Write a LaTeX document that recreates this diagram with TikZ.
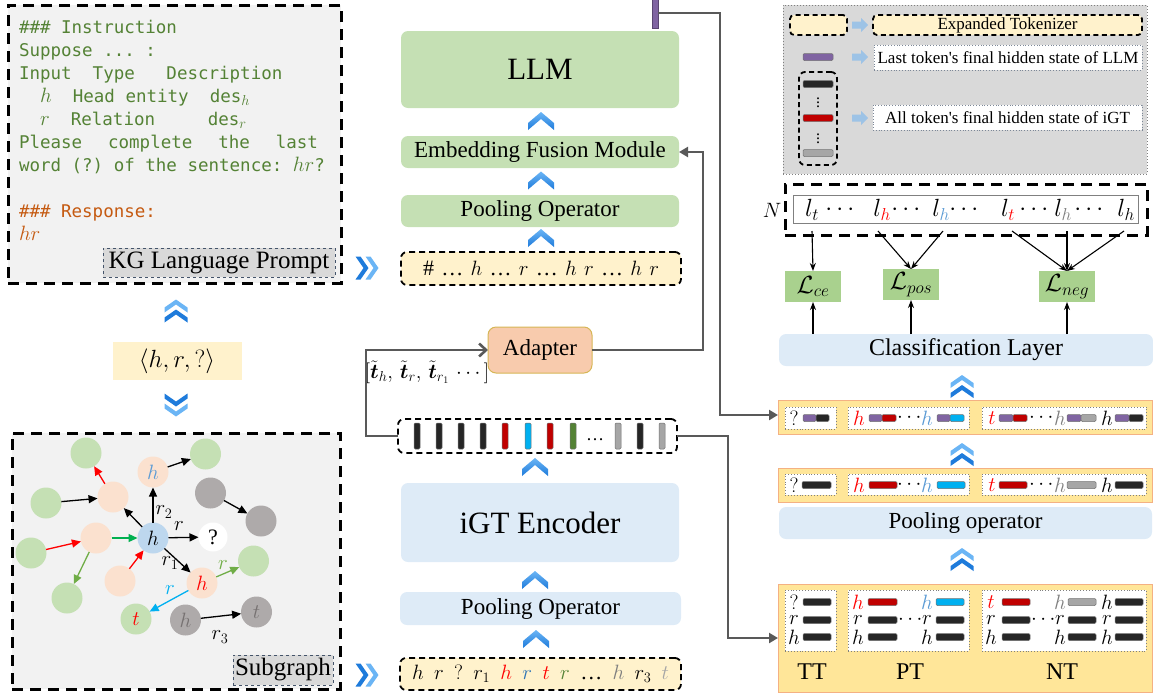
\documentclass[tikz,border=0pt]{standalone}
\usepackage{amsmath}
\usepackage{fontspec}
\setmainfont{Liberation Serif}
\setmonofont{DejaVu Sans Mono}
\newfontfamily\legfont{Liberation Serif}
\usetikzlibrary{arrows.meta,calc}
\definecolor{pgreen}{HTML}{548235}
\definecolor{porange}{HTML}{C55A11}
\definecolor{bgray}{HTML}{F2F2F2}
\definecolor{lgray}{HTML}{D9D9D9}
\definecolor{lborder}{HTML}{44546A}
\definecolor{llmgreen}{HTML}{C5E0B4}
\definecolor{bblue}{HTML}{DEEBF7}
\definecolor{tyellow}{HTML}{FFF2CC}
\definecolor{adfill}{HTML}{F8CBAD}
\definecolor{adborder}{HTML}{D6B656}
\definecolor{lossg}{HTML}{A9D18E}
\definecolor{ybox}{HTML}{FFE699}
\definecolor{yborder}{HTML}{F4B183}
\definecolor{purp}{HTML}{8064A2}
\definecolor{bk}{HTML}{262626}
\definecolor{bred}{HTML}{C00000}
\definecolor{bcyan}{HTML}{00B0F0}
\definecolor{bgrayb}{HTML}{A6A6A6}
\definecolor{bgreen}{HTML}{548235}
\definecolor{connc}{HTML}{595959}
\definecolor{chevdark}{HTML}{1E7BDB}
\definecolor{chevlight}{HTML}{6BB5F5}
\definecolor{legarr}{HTML}{9DC3E6}
\definecolor{cgreen}{HTML}{C5E0B4}
\definecolor{cpeach}{HTML}{FBE1CF}
\definecolor{cblue}{HTML}{BDD7EE}
\definecolor{cgray}{HTML}{AEAAAA}
\definecolor{hblue}{HTML}{5B9BD5}
\definecolor{rblue}{HTML}{2E75B6}
\definecolor{tgray}{HTML}{767171}
\definecolor{lgraytxt}{HTML}{A6A6A6}
\definecolor{egreen}{HTML}{00B050}
\definecolor{egreen2}{HTML}{70AD47}
\definecolor{ecyan}{HTML}{00B0F0}
\definecolor{midgray}{HTML}{7F7F7F}
\newcommand\myfs[1]{\fontsize{#1}{#1}\selectfont}
\newcommand\pmath[1]{{\myfs{20.5}$#1$}}
% chevrons
\newcommand\chU[3]{\fill[#3] ({#1-11.5},{#2+6}) -- ({#1-11.5},{#2+1}) -- (#1,{#2-7}) -- ({#1+11.5},{#2+1}) -- ({#1+11.5},{#2+6}) -- (#1,{#2-2}) -- cycle;}
\newcommand\chD[3]{\fill[#3] ({#1-11.5},{#2-6}) -- ({#1-11.5},{#2-1}) -- (#1,{#2+7}) -- ({#1+11.5},{#2-1}) -- ({#1+11.5},{#2-6}) -- (#1,{#2+2}) -- cycle;}
\newcommand\chR[3]{\fill[#3] ({#1-6},{#2-11.5}) -- ({#1-1},{#2-11.5}) -- ({#1+7},#2) -- ({#1-1},{#2+11.5}) -- ({#1-6},{#2+11.5}) -- ({#1+2},#2) -- cycle;}
\newcommand\dchU[2]{\chU{#1}{#2-5}{chevlight}\chU{#1}{#2+5}{chevdark}}
\newcommand\dchD[2]{\chD{#1}{#2-5}{chevdark}\chD{#1}{#2+5}{chevlight}}
\newcommand\dchR[2]{\chR{#1-5}{#2}{chevdark}\chR{#1+5}{#2}{chevlight}}
\newcommand\chS[2]{\shade[top color=chevlight,bottom color=chevdark] ({#1-13},{#2+9}) -- ({#1-13},{#2+2}) -- (#1,{#2-9}) -- ({#1+13},{#2+2}) -- ({#1+13},{#2+9}) -- (#1,{#2-2}) -- cycle;}
\newcommand\tbar[4]{\draw[draw=black!55,line width=0.5pt,fill=#4,rounded corners=1.2pt] (#1,{#3-3.5}) rectangle (#2,{#3+3.5});}
\newcommand\vbar[2]{\draw[draw=black!55,line width=0.5pt,fill=#2,rounded corners=1.2pt] ({#1-3},423) rectangle ({#1+3},449);}
\newcommand\tokl[5]{\node[tlet,text=#5] (#1) at (#2,#3) {$#4$};}
\newcommand\legarrow[2]{\fill[legarr] ({#1-8},{#2-3.5}) -- ({#1+1},{#2-3.5}) -- ({#1+1},{#2-7}) -- ({#1+8},#2) -- ({#1+1},{#2+7}) -- ({#1+1},{#2+3.5}) -- ({#1-8},{#2+3.5}) -- cycle;}
\begin{document}
\begin{tikzpicture}[x=1pt,y=-1pt,
  every node/.style={inner sep=0pt,outer sep=0pt},
  outerbox/.style={draw=black,line width=3pt,dash pattern=on 11pt off 7pt,fill=bgray},
  lab/.style={draw=lborder,dashed,line width=0.8pt,fill=lgray,font=\myfs{25}},
  pl/.style={anchor=base west,font=\ttfamily\myfs{17.5},text=pgreen},
  gblk/.style={fill=llmgreen,rounded corners=7pt,font=\myfs{23}},
  bblk/.style={fill=bblue,rounded corners=7pt,font=\myfs{23}},
  tokbox/.style={draw=black,fill=tyellow,line width=1.8pt,dash pattern=on 6pt off 4pt,rounded corners=6pt,font=\myfs{22}},
  conn/.style={draw=connc,line width=2.6pt,-{Triangle[length=9pt,width=10pt]}},
  sgc/.style={circle,minimum size=31pt,font=\myfs{22}},
  sge/.style={line width=1.3pt,-{Triangle[length=9pt,width=8pt]}},
  el/.style={font=\myfs{21}},
  na/.style={draw=black,line width=1.1pt,-{Stealth[length=8pt,width=6pt]}},
  loss/.style={fill=lossg,minimum width=56pt,minimum height=31pt,font=\myfs{25}},
  yb/.style={fill=ybox,draw=yborder,line width=1pt,minimum width=374pt},
  ib/.style={draw=gray,dotted,line width=0.9pt,fill=white},
  tlet/.style={font=\myfs{21}},
  legtxt/.style={fill=white,draw=lborder!70,dotted,line width=0.8pt,font=\legfont\myfs{17}},
]
\useasboundingbox (0,0) rectangle (1153,697);

%% ---------------- prompt box ----------------
\node[outerbox,minimum width=333pt,minimum height=278pt] (prompt) at (174.5,144) {};
\node[pl] (p1) at (19,33) {\#\#\# Instruction};
\node[pl] (p2) at (19,56) {Suppose ... :};
\node[pl] (p3) at (19,79) {Input~~Type~~~Description};
\node[pl] (p4) at (19,102) {~~\pmath{h}~~Head entity~~des\pmath{_h}};
\node[pl] (p5) at (19,125) {~~\pmath{r}~~Relation~~~~~des\pmath{_r}};
\node[pl] (p6) at (19,148) {\makebox[299pt][l]{Please\hfill complete\hfill the\hfill last}};
\node[pl] (p7) at (19,171) {word (?) of the sentence: \pmath{hr}?};
\node[pl,text=porange] (p8) at (19,217) {\#\#\# Response:};
\node[pl,text=porange] (p9) at (19,240) {\pmath{hr}};
\node[lab,minimum width=232pt,minimum height=29pt] (kgl) at (219,262.5) {KG Language Prompt};

%% ---------------- subgraph box ----------------
\node[outerbox,minimum width=328pt,minimum height=256pt] (sub) at (176,561) {};
\node[lab,minimum width=100pt,minimum height=30pt] (subl) at (283,670) {Subgraph};

\node[sgc,fill=cgreen] (g1) at (86,453) {};
\node[sgc,fill=cgreen] (g2) at (205.5,454) {};
\node[sgc,fill=cpeach,text=hblue] (hb) at (153,472) {$h$};
\node[sgc,fill=cpeach] (pk1) at (113,497) {};
\node[sgc,fill=cgreen] (g3) at (46,503) {};
\node[sgc,fill=cgray] (d1) at (210.5,493) {};
\node[sgc,fill=cgray] (d2) at (261,521) {};
\node[sgc,fill=cpeach] (pk2) at (96,538) {};
\node[sgc,fill=cblue] (hc) at (153,538) {$h$};
\node[sgc,fill=white,minimum size=29pt] (q) at (213,537) {?};
\node[sgc,fill=cgreen] (g4) at (31,553) {};
\node[sgc,fill=cpeach] (pk3) at (120,581) {};
\node[sgc,fill=cgreen] (g5) at (253.5,561) {};
\node[sgc,fill=cpeach,text=red] (hr) at (202,583) {$h$};
\node[sgc,fill=cgreen] (g6) at (67,598) {};
\node[sgc,fill=cgreen,text=red] (tred) at (136,619) {$t$};
\node[sgc,fill=cgray,text=tgray] (gh) at (185.5,620) {$h$};
\node[sgc,fill=cgray,text=tgray] (gt) at (256.5,612) {$t$};

\draw[sge] (g3) -- (pk1);
\draw[sge,color=red] (pk1) -- (g1);
\draw[sge] (hc) -- (pk1);
\draw[sge] (hc) -- (hb);
\draw[sge] (hc) -- (q);
\draw[sge] (hc) -- (hr);
\draw[sge] (hb) -- (g2);
\draw[sge] (d1) -- (d2);
\draw[sge,color=red] (g4) -- (pk2);
\draw[sge,color=egreen] (pk2) -- (hc);
\draw[sge,color=egreen2] (pk2) -- (g6);
\draw[sge,color=red] (pk3) -- (hc);
\draw[sge,color=egreen2] (hr) -- (g5);
\draw[sge,color=ecyan] (hr) -- (tred);
\draw[sge] (gh) -- (gt);
\node[el] (lr2) at (164,512) {$r_2$};
\node[el] (lr) at (179,526) {$r$};
\node[el] (lr1) at (170,563) {$r_1$};
\node[el,text=egreen2] (lrg) at (223,565) {$r$};
\node[el,text=ecyan] (lrc) at (170,590) {$r$};
\node[el] (lr3) at (220,637) {$r_3$};

%% ---------------- left tuple ----------------
\dchU{176}{311.5}
\node[fill=tyellow,minimum width=129pt,minimum height=38pt,font=\myfs{29}] (tuple) at (177,361) {$\langle h,r,?\rangle$};
\dchD{176}{404.5}

%% ---------------- middle column ----------------
\node[gblk,minimum width=278pt,minimum height=77pt,font=\myfs{31}] (llm) at (540,69.5) {LLM};
\chS{541}{121}
\node[gblk,minimum width=278pt,minimum height=32pt] (efm) at (540,152) {Embedding Fusion Module};
\chS{541}{180.5}
\node[gblk,minimum width=278pt,minimum height=32pt] (poolg) at (540,211) {Pooling Operator};
\chS{541}{238}
\node[tokbox,minimum width=280pt,minimum height=33pt] (toktop) at (541,268.5)
  {\makebox[236pt][s]{\# \ldots\ $h$ \ldots\ $r$ \ldots\ $h$ $r$ \ldots\ $h$ $r$}};
\dchR{366.5}{268}

\node[draw=purp!70!black,fill=purp,line width=0.5pt,minimum width=6pt,minimum height=30pt] (lasttok) at (655,13) {};

\node[fill=adfill,draw=adborder,line width=1pt,rounded corners=8pt,minimum width=104pt,minimum height=46pt,font=\myfs{23}] (adapter) at (540,350) {Adapter};
\node[font=\myfs{20}] (tlab) at (427,372) {$[\tilde{\boldsymbol{t}}_h,\,\tilde{\boldsymbol{t}}_r,\,\tilde{\boldsymbol{t}}_{r_1}\,\cdots]$};

\node[draw=black,fill=white,line width=1.8pt,dash pattern=on 6pt off 4pt,rounded corners=6pt,minimum width=279pt,minimum height=34pt] (vec) at (537.5,436) {};
\vbar{417}{bk}\vbar{439}{bk}\vbar{461}{bk}\vbar{483}{bk}
\vbar{505}{bred}\vbar{528}{bcyan}\vbar{550}{bred}\vbar{573}{bgreen}
\node[font=\myfs{18}] (vdots) at (595,440) {\ldots};
\vbar{618}{bgrayb}\vbar{640}{bk}\vbar{662}{bgrayb}

\chS{535}{467}
\node[bblk,minimum width=278pt,minimum height=79pt,font=\myfs{31}] (igt) at (540,522.5) {iGT Encoder};
\chS{535}{580}
\node[bblk,minimum width=281pt,minimum height=33pt] (poolb) at (540.5,608.5) {Pooling Operator};
\chS{536}{639}
\node[tokbox,minimum width=281pt,minimum height=32pt] (tokbot) at (540.5,674)
  {\makebox[257pt][s]{$h$ $r$ $?$ $r_1$ $\color{red}h$ $\color{rblue}r$ $\color{red}t$ $\color{pgreen}r$ \ldots\ $\color{midgray}h$ $r_3$ $\color{lgraytxt}t$}};
\dchR{366.5}{675}

%% ---------------- right: legend ----------------
\node[fill=lgray,draw=midgray,dotted,line width=1pt,minimum width=364pt,minimum height=169pt] (legend) at (965,89.5) {};
\node[draw=black,fill=tyellow,line width=1.8pt,dash pattern=on 5pt off 3.5pt,rounded corners=4pt,minimum width=57pt,minimum height=20pt] (legy) at (818.5,25) {};
\legarrow{860}{25}
\node[draw=black,fill=tyellow,line width=1.8pt,dash pattern=on 5pt off 3.5pt,rounded corners=4pt,minimum width=269pt,minimum height=20pt,font=\myfs{17}] (legexp) at (1007.5,25) {Expanded Tokenizer};
\tbar{803}{833}{57}{purp}
\legarrow{860}{57}
\node[legtxt,minimum width=268pt,minimum height=25pt] (leglast) at (1008,57.5) {Last token's final hidden state of LLM};
\node[draw=black,line width=1.8pt,dash pattern=on 5pt off 3.5pt,rounded corners=6pt,minimum width=38pt,minimum height=93pt] (legv) at (818,118.5) {};
\tbar{803}{833}{84}{bk}
\node[font=\myfs{16}] (vd1) at (818,100) {$\vdots$};
\tbar{803}{833}{118}{bred}
\node[font=\myfs{16}] (vd2) at (818,136) {$\vdots$};
\tbar{803}{833}{153}{bgrayb}
\legarrow{860}{118}
\node[legtxt,minimum width=269pt,minimum height=25pt] (legall) at (1007.5,117.5) {All token's final hidden state of iGT};

%% ---------------- right: N box and losses ----------------
\node[draw=black,line width=3pt,dash pattern=on 11pt off 7pt,minimum width=362pt,minimum height=51pt] (nbox) at (966,209.5) {};
\node[draw=gray,fill=white,line width=0.8pt,minimum width=345pt,minimum height=28pt] (ninner) at (965.5,209) {};
\node[font=\myfs{22}] (nlab) at (772,210) {$N$};
\begin{scope}[every node/.append style={font=\myfs{25}}]
\node (l1) at (812,210) {$l_t$};
\node (n1) at (842,210) {$\cdots$};
\node (l2) at (882,210) {$l_{\color{red}h}$};
\node (n2) at (908,210) {$\cdots$};
\node (l3) at (941,210) {$l_{\color{hblue}h}$};
\node (n3) at (966,210) {$\cdots$};
\node (l4) at (1008,210) {$l_{\color{red}t}$};
\node (n4) at (1036,210) {$\cdots$};
\node (l5) at (1063,210) {$l_{\color{midgray}h}$};
\node (n5) at (1091,210) {$\cdots$};
\node (l6) at (1126,210) {$l_h$};
\end{scope}
\node[loss] (lce) at (813,286.5) {$\mathcal{L}_{ce}$};
\node[loss] (lpos) at (911,284.5) {$\mathcal{L}_{pos}$};
\node[loss] (lneg) at (1067,286.5) {$\mathcal{L}_{neg}$};
\coordinate (s1) at (812,231);
\coordinate (s2) at (878,231);
\coordinate (s3) at (943,231);
\coordinate (s4) at (1012,231);
\coordinate (s5) at (1067,231);
\coordinate (s6) at (1124,231);
\draw[na] (s1) -- (lce.north);
\draw[na] (s2) -- (lpos.north);
\draw[na] (s3) -- (lpos.north);
\draw[na] (s4) -- (lneg.north);
\draw[na] (s5) -- (lneg.north);
\draw[na] (s6) -- (lneg.north);

\node[bblk,minimum width=374pt,minimum height=32pt,font=\myfs{24}] (cls) at (966,350) {Classification Layer};
\draw[na] (lce |- cls.north) -- (lce.south);
\draw[na] (lpos |- cls.north) -- (lpos.south);
\draw[na] (lneg |- cls.north) -- (lneg.south);

\dchU{962}{387}

%% yellow box 1
\node[yb,minimum height=34pt] (yb1) at (965,417) {};
\node[ib,minimum width=51pt,minimum height=22pt] (ib1a) at (810.5,418) {};
\node[ib,minimum width=121pt,minimum height=22pt] (ib1b) at (908.5,418) {};
\node[ib,minimum width=164pt,minimum height=22pt] (ib1c) at (1064,418) {};
\tokl{y1q}{794}{418}{?}{black}
\tbar{803}{816}{418}{purp}\tbar{816}{829}{418}{bk}
\tokl{y1h}{859}{418}{h}{red}
\tbar{869}{882}{418}{purp}\tbar{882}{896}{418}{bred}
\tokl{y1d}{911}{418}{\cdots}{black}
\tokl{y1hb}{927}{418}{h}{hblue}
\tbar{937}{950}{418}{purp}\tbar{950}{964}{418}{bcyan}
\tokl{y1t}{992}{418}{t}{red}
\tbar{999}{1013}{418}{purp}\tbar{1013}{1027}{418}{bred}
\tokl{y1d2}{1043}{418}{\cdots}{black}
\tokl{y1hg}{1060}{418}{h}{midgray}
\tbar{1067}{1081}{418}{purp}\tbar{1081}{1096}{418}{bgrayb}
\tokl{y1hk}{1107}{418}{h}{black}
\tbar{1115}{1129}{418}{purp}\tbar{1129}{1143}{418}{bk}

\dchU{962}{455}

%% yellow box 2
\node[yb,minimum height=34pt] (yb2) at (965,485) {};
\node[ib,minimum width=51pt,minimum height=21pt] (ib2a) at (810.5,484.5) {};
\node[ib,minimum width=121pt,minimum height=21pt] (ib2b) at (908.5,484.5) {};
\node[ib,minimum width=164pt,minimum height=21pt] (ib2c) at (1064,484.5) {};
\tokl{y2q}{794}{485}{?}{black}\tbar{802}{831}{485}{bk}
\tokl{y2h}{859}{485}{h}{red}\tbar{869}{897}{485}{bred}
\tokl{y2d}{911}{485}{\cdots}{black}
\tokl{y2hb}{927}{485}{h}{hblue}\tbar{937}{965}{485}{bcyan}
\tokl{y2t}{992}{485}{t}{red}\tbar{999}{1027}{485}{bred}
\tokl{y2d2}{1043}{485}{\cdots}{black}
\tokl{y2hg}{1060}{485}{h}{midgray}\tbar{1067}{1096}{485}{bgrayb}
\tokl{y2hk}{1107}{485}{h}{black}\tbar{1115}{1143}{485}{bk}

\node[bblk,minimum width=373pt,minimum height=32pt] (pool2) at (965.5,523) {Pooling operator};

\dchU{962}{560}

%% yellow box 3
\node[yb,minimum height=108pt] (yb3) at (965,638) {};
\node[ib,minimum width=51pt,minimum height=61pt] (ib3a) at (810.5,620.5) {};
\node[ib,minimum width=121pt,minimum height=61pt] (ib3b) at (908.5,620.5) {};
\node[ib,minimum width=164pt,minimum height=61pt] (ib3c) at (1064,620.5) {};
\tokl{y3q}{794}{602}{?}{black}\tbar{803}{831}{602}{bk}
\tokl{y3h}{858}{602}{h}{red}\tbar{868}{897}{602}{bred}
\tokl{y3hb}{927}{602}{h}{hblue}\tbar{936}{964}{602}{bcyan}
\tokl{y3t}{991}{602}{t}{red}\tbar{1002}{1030}{602}{bred}
\tokl{y3hg}{1060}{602}{h}{midgray}\tbar{1068}{1096}{602}{bgrayb}
\tokl{y3hk}{1107}{602}{h}{black}\tbar{1115}{1143}{602}{bk}
\foreach \rr/\yy/\ll in {2/620/r,3/637/h}{
  \tokl{y\rr a}{794}{\yy}{\ll}{black}\tbar{803}{831}{\yy}{bk}
  \tokl{y\rr b}{858}{\yy}{\ll}{black}\tbar{868}{897}{\yy}{bk}
  \tokl{y\rr c}{927}{\yy}{\ll}{black}\tbar{936}{964}{\yy}{bk}
  \tokl{y\rr d}{991}{\yy}{\ll}{black}\tbar{1002}{1030}{\yy}{bk}
  \tokl{y\rr e}{1060}{\yy}{\ll}{black}\tbar{1068}{1096}{\yy}{bk}
  \tokl{y\rr f}{1107}{\yy}{\ll}{black}\tbar{1115}{1143}{\yy}{bk}
}
\tokl{y3dots}{912}{620}{\cdots}{black}
\tokl{y3dots2}{1045}{620}{\cdots}{black}
\node[font=\myfs{24}] (ltt) at (812,672) {TT};
\node[font=\myfs{24}] (lpt) at (910,672) {PT};
\node[font=\myfs{24}] (lnt) at (1062,672) {NT};

%% ---------------- connectors ----------------
\coordinate (c1) at (720,415);
\draw[conn] (lasttok.east) -| (c1) -- (c1 -| yb1.west);
\coordinate (c2) at (703,152);
\draw[conn] (adapter.east) -| (c2) -- (efm.east);
\coordinate (c3) at (366,350);
\draw[conn,-{Straight Barb[length=7pt,width=13pt]}] (vec.west) -| (c3) -- (adapter.west);
\coordinate (c4) at (728,436);
\draw[conn] (vec.east) -- (c4) |- (yb3.west);
\end{tikzpicture}
\end{document}
